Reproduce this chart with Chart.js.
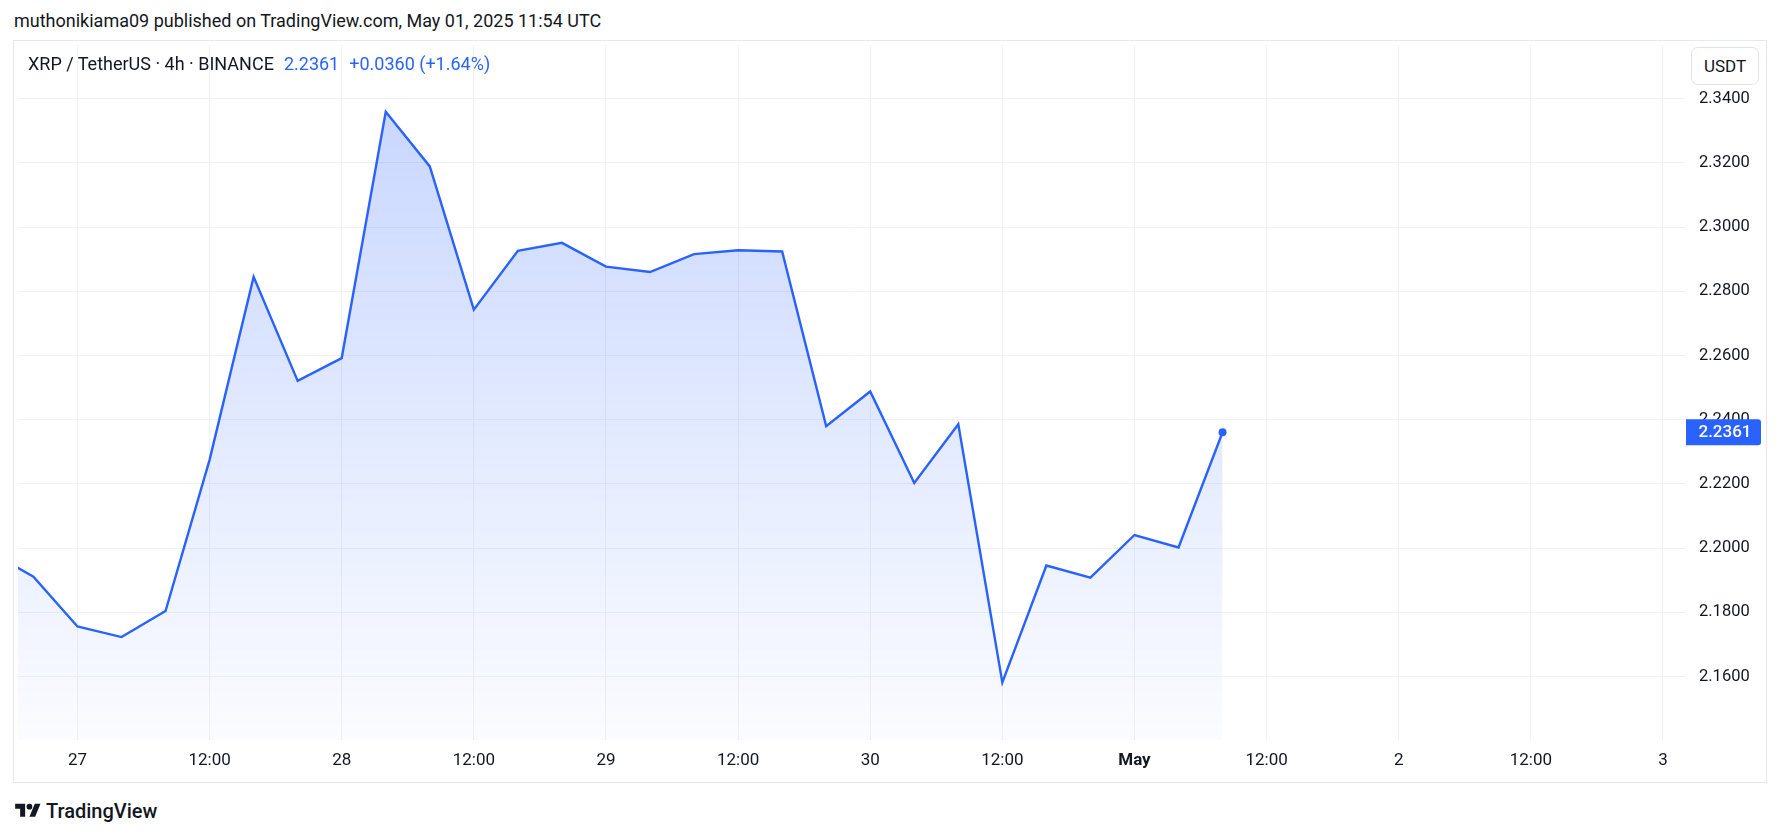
<!DOCTYPE html>
<html>
<head>
<meta charset="utf-8">
<script src="https://cdn.jsdelivr.net/npm/chart.js@4.4.1/dist/chart.umd.min.js"></script>
<style>
  body { margin: 0; background: #fff; font-family: Roboto, "Noto Sans", sans-serif; color: #131722; }
  #page { position: relative; width: 1781px; height: 835px; overflow: hidden; }
  #title { position: absolute; left: 14px; top: 9px; font-size: 18px; line-height: 24px; white-space: nowrap; }
  #frame { position: absolute; left: 13px; top: 40px; width: 1754px; height: 743px; box-sizing: border-box; border: 1px solid #e6e8ee; }
  #wrap { position: absolute; left: 0; top: 0; width: 1752px; height: 741px; }
  #legend { position: absolute; left: 14px; top: 11px; font-size: 18px; line-height: 24px; white-space: nowrap; }
  #legend .blue { color: #2962ff; margin-left: 10px; }
  #unit { position: absolute; left: 1677px; top: 6px; width: 68px; height: 38px; box-sizing: border-box; border: 1px solid #e0e3eb; border-radius: 7px; background: #fff; font-size: 17px; line-height: 36px; text-align: center; }
  #logo { position: absolute; left: 15px; top: 799px; display: flex; align-items: center; font-size: 20px; font-weight: 500; }
  #logo svg { margin-right: 5px; }
</style>
</head>
<body>
<div id="page">
  <div id="title">muthonikiama09 published on TradingView.com, May 01, 2025 11:54 UTC</div>
  <div id="frame">
    <div id="wrap"><canvas id="xrpChart"></canvas></div>
    <div id="legend">XRP / TetherUS · 4h · BINANCE<span class="blue">2.2361</span><span class="blue">+0.0360 (+1.64%)</span></div>
    <div id="unit">USDT</div>
  </div>
  <div id="logo">
    <svg width="26" height="20" viewBox="0 0 36 28"><path fill="#131722" d="M14 22H7V11H0V4h14v18zM28 22h-8l7.5-18h8L28 22z"/><circle fill="#131722" cx="20" cy="8" r="4"/></svg>
    TradingView
  </div>
</div>
<script>
// hours after 27 Apr 00:00 UTC, one point per 4h candle
const hours = [-8, -4, 0, 4, 8, 12, 16, 20, 24, 28, 32, 36, 40, 44, 48, 52, 56, 60, 64, 68, 72, 76, 80, 84, 88, 92, 96, 100, 104];
const prices = [
  2.1989, 2.1911, 2.1756, 2.1723, 2.1804, 2.2275, 2.2845, 2.2521, 2.2592, 2.3359,
  2.3189, 2.2743, 2.2926, 2.2951, 2.2877, 2.2860, 2.2916, 2.2928, 2.2924, 2.2380,
  2.2488, 2.2203, 2.2386, 2.1582, 2.1946, 2.1908, 2.2041, 2.2002, 2.2361,
];
const tickHours = [0, 12, 24, 36, 48, 60, 72, 84, 96, 108, 120, 132, 144];
const tickLabels = ["27", "12:00", "28", "12:00", "29", "12:00", "30", "12:00", "May", "12:00", "2", "12:00", "3"];
const priceTicks = [2.16, 2.18, 2.2, 2.22, 2.24, 2.26, 2.28, 2.3, 2.32, 2.34];

document.addEventListener("DOMContentLoaded", function () {
  const lastPrice = prices[prices.length - 1];
  const gridColor = "#f0f1f4";

  // blue tag with the last price on the price axis
  const priceTag = {
    id: "priceTag",
    afterDraw(chart) {
      const c = chart.ctx;
      const y = chart.scales.y.getPixelForValue(lastPrice);
      const x0 = chart.chartArea.right + 1;
      c.save();
      c.fillStyle = "#2962ff";
      c.beginPath();
      c.roundRect(x0, y - 13, 75, 26, [0, 3, 3, 0]);
      c.fill();
      c.fillStyle = "#fff";
      c.font = "500 17px Roboto";
      c.textAlign = "center";
      c.textBaseline = "middle";
      c.fillText(lastPrice.toFixed(4), x0 + 39, y + 1);
      c.restore();
    },
  };

  const ctx = document.getElementById("xrpChart").getContext("2d");
  new Chart(ctx, {
    type: "line",
    data: {
      datasets: [
        {
          data: hours.map((h, i) => ({ x: h, y: prices[i] })),
          borderColor: "#2962ff",
          borderWidth: 2.4,
          tension: 0,
          fill: "start",
          backgroundColor: function (context) {
            const chart = context.chart;
            const area = chart.chartArea;
            if (!area) return "rgba(41,98,255,0.1)";
            const top = chart.scales.y.getPixelForValue(Math.max(...prices));
            const g = chart.ctx.createLinearGradient(0, top, 0, area.bottom);
            g.addColorStop(0, "rgba(41,98,255,0.25)");
            g.addColorStop(1, "rgba(41,98,255,0.02)");
            return g;
          },
          pointRadius: (c) => (c.dataIndex === prices.length - 1 ? 4 : 0),
          pointBackgroundColor: "#2962ff",
          pointBorderWidth: 0,
        },
      ],
    },
    options: {
      responsive: true,
      maintainAspectRatio: false,
      animation: false,
      layout: { padding: 0 },
      plugins: { legend: { display: false }, tooltip: { enabled: false } },
      scales: {
        x: {
          type: "linear",
          min: -5.4,
          max: 146,
          afterBuildTicks: (axis) => {
            axis.ticks = tickHours.map((v) => ({ value: v }));
          },
          afterFit: (axis) => {
            axis.height = 42;
            axis.paddingLeft = 0;
            axis.paddingRight = 0;
          },
          grid: { color: gridColor, drawTicks: false },
          border: { display: false },
          ticks: {
            padding: 11,
            maxRotation: 0,
            autoSkip: false,
            color: "#131722",
            font: (c) => ({ family: "Roboto", size: 17, weight: c.tick && c.tick.value === 96 ? "bold" : "normal" }),
            callback: (v) => tickLabels[tickHours.indexOf(v)],
          },
        },
        y: {
          position: "right",
          min: 2.14024,
          max: 2.35672,
          afterBuildTicks: (axis) => {
            axis.ticks = priceTicks.map((v) => ({ value: v }));
          },
          afterFit: (axis) => {
            axis.width = 81;
            axis.paddingTop = 0;
            axis.paddingBottom = 0;
          },
          grid: { color: gridColor, drawTicks: false },
          border: { display: false },
          ticks: {
            crossAlign: "near",
            padding: 14,
            color: "#131722",
            font: { family: "Roboto", size: 16.5 },
            callback: (v) => v.toFixed(4),
          },
        },
      },
    },
    plugins: [priceTag],
  });
});
</script>
</body>
</html>
